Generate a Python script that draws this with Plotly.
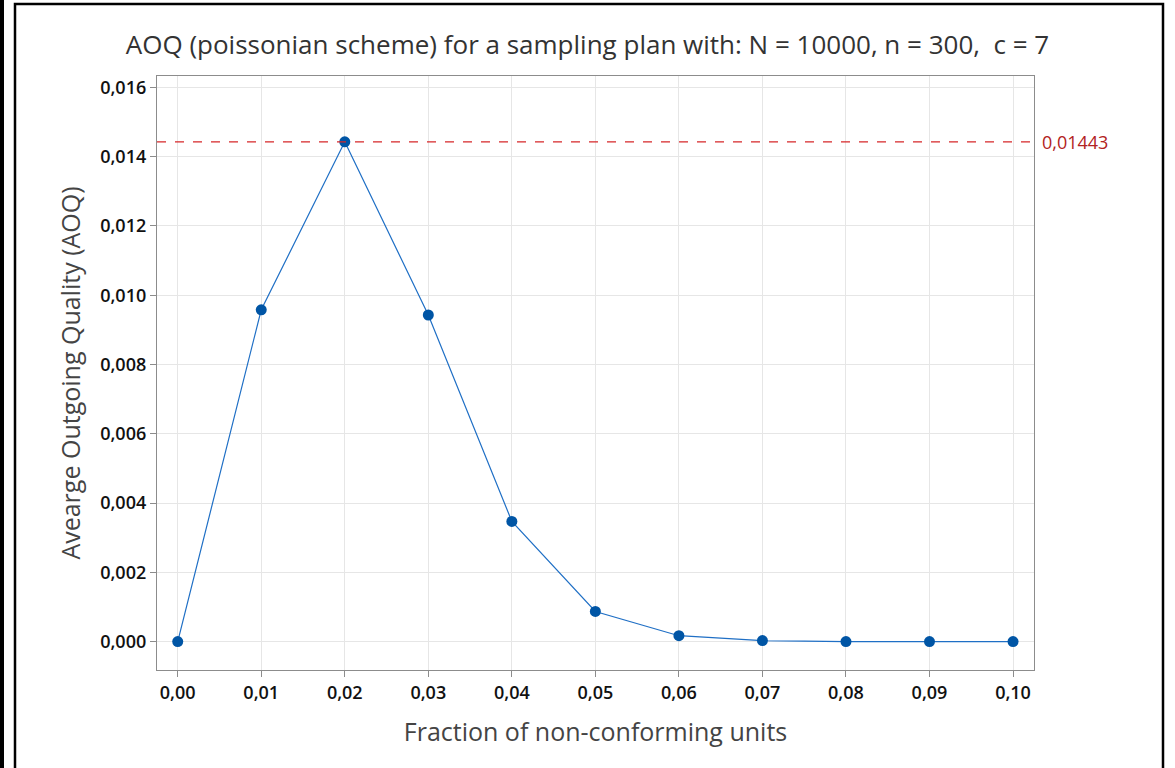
import plotly.graph_objects as go

fraction = [0.00, 0.01, 0.02, 0.03, 0.04, 0.05, 0.06, 0.07, 0.08, 0.09, 0.10]
aoq = [0.0, 0.00958, 0.01443, 0.00943, 0.00347, 0.00087, 0.00017, 0.00003, 0.0, 0.0, 0.0]
aoql = 0.01443
x_ticks = [0.00, 0.01, 0.02, 0.03, 0.04, 0.05, 0.06, 0.07, 0.08, 0.09, 0.10]
y_ticks = [0.000, 0.002, 0.004, 0.006, 0.008, 0.010, 0.012, 0.014, 0.016]

W, H = 1175, 768
L, R, T, B = 157, 1034, 76, 670
pw, ph = R - L, B - T

def px(x):
    return (x - L) / pw

def py(y):
    return (B - y) / ph

FONT = "Open Sans"

fig = go.Figure()
fig.add_trace(go.Scatter(
    x=fraction, y=aoq, mode="lines+markers",
    line=dict(color="#1f6fc5", width=1.2),
    marker=dict(color="#0055a5", size=11, symbol="circle"),
    showlegend=False, cliponaxis=False,
))

fig.add_shape(type="line", xref="paper", yref="y", x0=0, x1=1, y0=aoql, y1=aoql,
              line=dict(color="#d62728", width=1.3, dash="dash"))
fig.add_annotation(xref="paper", yref="y", x=1, y=aoql, xanchor="left", xshift=6,
                   text="0,01443", showarrow=False,
                   font=dict(family=FONT, size=18, color="#b22222"))

# outer frame
fig.add_shape(type="rect", xref="paper", yref="paper",
              x0=px(15), x1=px(1163), y0=py(790), y1=py(4),
              line=dict(color="black", width=2.5), fillcolor="rgba(0,0,0,0)", layer="below")
fig.add_shape(type="rect", xref="paper", yref="paper",
              x0=px(0), x1=px(4), y0=py(790), y1=py(-10),
              line=dict(width=0), fillcolor="black", layer="below")

axis_common = dict(
    showline=True, linecolor="#8c8c8c", linewidth=1.3, mirror=True,
    showgrid=True, gridcolor="#e6e6e6", gridwidth=1.2,
    ticks="outside", ticklen=6, tickcolor="#8c8c8c", tickwidth=1.2,
    zeroline=False,
    tickfont=dict(family=FONT, size=18, color="#111111", weight=600),
)

fig.update_layout(
    width=W, height=H,
    margin=dict(l=L, r=W - R, t=T, b=H - B),
    paper_bgcolor="white", plot_bgcolor="white",
    separators=",.",
    title=dict(text="AOQ (poissonian scheme) for a sampling plan with: N = 10000, n = 300,  c = 7",
               x=0.5, xanchor="center", y=1 - 45 / H, yanchor="middle",
               font=dict(family=FONT, size=26, color="#333333")),
    xaxis=dict(range=[-0.00248, 0.10251], tickvals=x_ticks, tickformat=".2f",
               title=dict(text="Fraction of non-conforming units", standoff=20,
                          font=dict(family=FONT, size=25, color="#444444")),
               **axis_common),
    yaxis=dict(range=[-0.00082, 0.01633], tickvals=y_ticks, tickformat=".3f",
               title=dict(text="Avearge Outgoing Quality (AOQ)", standoff=12,
                          font=dict(family=FONT, size=25, color="#444444")),
               **axis_common),
)

fig.write_html("out.html")
